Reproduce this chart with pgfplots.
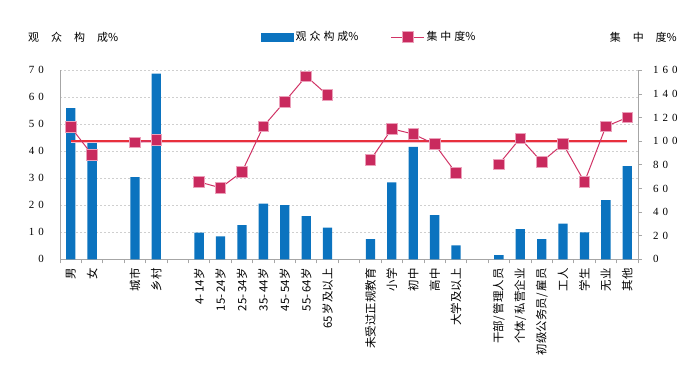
\documentclass[border=0pt]{standalone}
\usepackage{pgfplots}
\pgfplotsset{compat=1.18}
\usepackage{pgfplotstable}
\usepackage{fontspec}
\setmainfont{Liberation Serif}
\newfontfamily\cjk{Noto Sans CJK SC}
\definecolor{barblue}{HTML}{0B73BF}
\definecolor{linecol}{HTML}{D13466}
\definecolor{markcol}{HTML}{C92A5E}
\definecolor{markedge}{HTML}{EBA0BA}
\definecolor{avgred}{HTML}{E8303C}
\definecolor{gridc}{HTML}{CFCFCF}
\definecolor{axisc}{HTML}{A6A6A6}
\newcommand{\dsp}{\hspace{4bp}}
\newcommand{\csp}{\hspace{3bp}}

\pgfplotstableread{
x bar line
0 56 112
1 43.5 88.5
2 nan nan
3 30.4 99
4 68.8 101
5 nan nan
6 9.9 65.5
7 8.5 60.5
8 12.7 74
9 20.6 112.5
10 20.1 133.5
11 16 155
12 11.7 139
13 nan nan
14 7.5 84
15 28.5 110.5
16 41.6 106
17 16.4 97.5
18 5.2 73
19 nan nan
20 1.5 80.5
21 11.2 102.5
22 7.5 82.5
23 13.2 97.5
24 10 65.5
25 21.9 112.5
26 34.5 120
}\datatab

\begin{document}
\begin{tikzpicture}
\path[use as bounding box] (0,0) rectangle (700bp,385bp);
\begin{axis}[
  at={(60bp,125.7bp)}, anchor=south west,
  scale only axis, width=578bp, height=189bp,
  xmin=-0.5, xmax=26.5, ymin=0, ymax=70,
  axis x line*=bottom, axis y line*=left,
  axis line style={axisc, line width=0.8bp},
  major tick length=0pt,
  ytick={0,10,...,70},
  yticklabels={0,1\dsp0,2\dsp0,3\dsp0,4\dsp0,5\dsp0,6\dsp0,7\dsp0},
  yticklabel style={font=\fontsize{11}{12}\selectfont, anchor=east, inner sep=0pt},
  yticklabel shift=16bp,
  ymajorgrids,
  grid style={gridc, dash pattern=on 2bp off 2bp, line width=0.6bp},
  xtick={0,1,3,4,6,7,8,9,10,11,12,14,15,16,17,18,20,21,22,23,24,25,26},
  xticklabels={男,女,城市,乡村,4-\,14岁,15-\,24岁,25-\,34岁,35-\,44岁,45-\,54岁,55-\,64岁,65\,岁及以上,未受过正规教育,小学,初中,高中,大学及以上,干部/\,管理人员,个体/\,私营企业,初级公务员/\,雇员,工人,学生,无业,其他},
  xticklabel style={font=\cjk\fontsize{11.5}{12}\selectfont, rotate=90, anchor=east, inner sep=0pt},
  xticklabel shift=9bp,
  extra x ticks={-0.5,0.5,...,26.5},
  extra x tick labels={},
  extra x tick style={tick align=outside, major tick length=4bp, tick style={axisc, line width=0.8bp}, grid=none},
  clip=false,
]
\addplot[ybar, bar width=9.3bp, fill=barblue, draw=none] table[x=x, y=bar]{\datatab};
\end{axis}
\begin{axis}[
  at={(60bp,125.7bp)}, anchor=south west,
  scale only axis, width=578bp, height=189bp,
  xmin=-0.5, xmax=26.5, ymin=0, ymax=160,
  axis x line=none, axis y line*=right,
  axis line style={axisc, line width=0.8bp},
  ytick={0,20,...,160},
  yticklabels={0,2\dsp0,4\dsp0,6\dsp0,8\dsp0,1\dsp0\dsp0,1\dsp2\dsp0,1\dsp4\dsp0,1\dsp6\dsp0},
  tick align=outside, major tick length=4bp,
  ytick style={axisc, line width=0.8bp},
  yticklabel style={font=\fontsize{11}{12}\selectfont, anchor=west, inner sep=0pt},
  yticklabel shift=11bp,
  unbounded coords=jump,
  clip=false,
  legend columns=2,
  legend style={draw=none, fill=none, inner sep=0pt, at={(0.3478,1.176)}, anchor=west,
    font=\cjk\fontsize{11}{12}\selectfont,
    /tikz/every even column/.append style={column sep=30bp}},
]
\addlegendimage{legend image code/.code={\fill[barblue] (0bp,-4bp) rectangle (32bp,4bp);}}
\addlegendentry{观\csp 众\csp 构\csp 成\%}
\addlegendimage{legend image code/.code={\draw[linecol, line width=1bp] (0bp,0bp) -- (33bp,0bp); \filldraw[fill=markcol, draw=markedge, line width=0.8bp] (11bp,-5.5bp) rectangle (22bp,5.5bp);}}
\addlegendentry{集\csp 中\csp 度\%}
\addplot[forget plot, markedge!70, line width=3bp] coordinates {(0,100) (26,100)};
\addplot[forget plot, avgred, line width=1.4bp] coordinates {(0,100) (26,100)};
\addplot[forget plot, linecol, line width=1bp, mark=square*, mark size=5.3bp,
  mark options={fill=markcol, draw=markedge, line width=0.8bp}] table[x=x, y=line]{\datatab};
\end{axis}
\node[anchor=west, inner sep=0pt, font=\cjk\fontsize{11}{12}\selectfont] at (28bp,348bp) {观\hspace{12bp}众\hspace{12bp}构\hspace{12bp}成\%};
\node[anchor=east, inner sep=0pt, font=\cjk\fontsize{11}{12}\selectfont] at (677bp,348bp) {集\hspace{12bp}中\hspace{12bp}度\%};
\end{tikzpicture}
\end{document}
